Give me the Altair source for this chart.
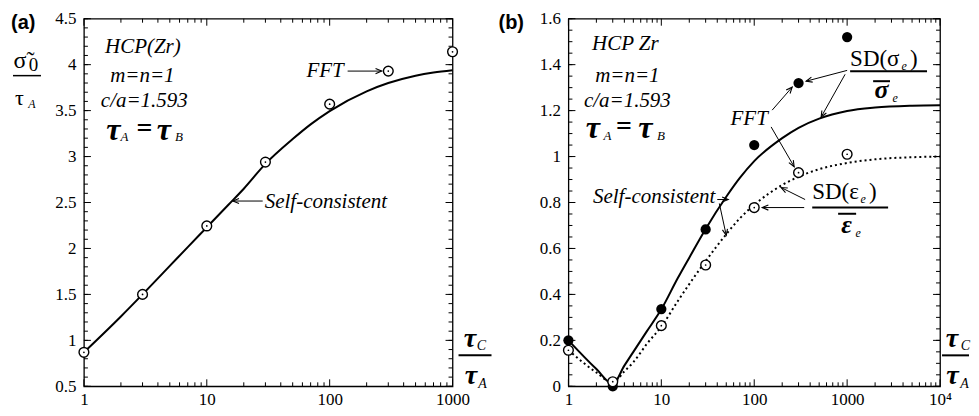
import math
import altair as alt
import pandas as pd

SERIF = "Liberation Serif"
SANS = "Liberation Sans"

# ---------------- data ----------------
# panel (a)
a_fft_x = [1, 3, 10, 30, 100, 300, 1000]
a_fft_y = [0.87, 1.50, 2.245, 2.94, 3.57, 3.93, 4.14]
a_sc_x = [1, 2, 3, 5, 7, 10, 15, 20, 30, 50, 70, 100, 200, 300, 500, 700, 1000]
a_sc_y = [0.87, 1.26, 1.50, 1.81, 2.015, 2.23, 2.475, 2.65, 2.92, 3.19, 3.35,
          3.495, 3.71, 3.80, 3.88, 3.915, 3.94]

# panel (b)
b_fft_x = [1, 3, 10, 30, 100, 300, 1000]
b_sig_fft = [0.20, 0.0, 0.336, 0.683, 1.05, 1.32, 1.52]
b_eps_fft = [0.157, 0.02, 0.264, 0.528, 0.778, 0.93, 1.01]
b_sc_x = [1, 2, 3, 4, 5, 7, 10, 15, 20, 30, 50, 70, 100, 200, 300, 500, 1000,
          2000, 5000, 10000]
b_sig_sc = [0.20, 0.075, 0.01, 0.09, 0.15, 0.24, 0.335, 0.47, 0.56, 0.685, 0.825,
            0.907, 0.98, 1.08, 1.125, 1.165, 1.198, 1.213, 1.221, 1.223]
b_eps_sc = [0.157, 0.06, 0.015, 0.065, 0.105, 0.185, 0.26, 0.37, 0.445, 0.545,
            0.662, 0.731, 0.79, 0.876, 0.912, 0.945, 0.972, 0.988, 0.997, 1.0]

# ticks
a_xticks = [1, 10, 100, 1000]
b_xticks = [1, 10, 100, 1000, 10000]
a_yticks = [0.5, 1, 1.5, 2, 2.5, 3, 3.5, 4, 4.5]
b_yticks = [0, 0.2, 0.4, 0.6, 0.8, 1, 1.2, 1.4, 1.6]
a_yminor = [round(0.5 + 0.1 * i, 2) for i in range(41)]
b_yminor = [round(0.05 * i, 2) for i in range(33)]


def log_minor(decades):
    out = []
    for d in range(decades):
        for m in range(2, 10):
            out.append(m * 10 ** d)
    return out


a_xminor = log_minor(3)
b_xminor = log_minor(4)

WA, HA = 369, 368
WB, HB = 372, 368
MAJ, MIN = 7, 4
LBL = "'' + datum.value"
TICKFS = 17


class Panel:
    def __init__(self, xdom, ydom, W, H, xvals, yvals, xexpr, yexpr):
        self.xdom, self.ydom, self.W, self.H = xdom, ydom, W, H
        self.xs = alt.Scale(type="log", domain=xdom, nice=False)
        self.ys = alt.Scale(domain=ydom, nice=False, zero=False)
        ax = dict(ticks=False, domain=False, grid=False, labelFont=SERIF,
                  labelFontSize=TICKFS, labelColor="black", labelFlush=False,
                  labelOverlap=False, labelBound=False, title=None)
        self.xaxis = alt.Axis(values=xvals, labelExpr=xexpr, labelPadding=5, **ax)
        self.yaxis = alt.Axis(values=yvals, labelExpr=yexpr, labelPadding=8, **ax)
        self.layers = []

    def px(self, x, y):
        lx0, lx1 = math.log10(self.xdom[0]), math.log10(self.xdom[1])
        X = (math.log10(x) - lx0) / (lx1 - lx0) * self.W
        Y = self.H - (y - self.ydom[0]) / (self.ydom[1] - self.ydom[0]) * self.H
        return X, Y

    def X(self, f="x"):
        return alt.X(f + ":Q", scale=self.xs, axis=self.xaxis, title=None)

    def Y(self, f="y"):
        return alt.Y(f + ":Q", scale=self.ys, axis=self.yaxis, title=None)

    def text(self, x, y, s, size, style="normal", weight="normal", dx=0, dy=0,
             align="center", font=SERIF):
        df = pd.DataFrame({"x": [x], "y": [y], "t": [s]})
        self.layers.append(
            alt.Chart(df).mark_text(font=font, fontSize=size, fontStyle=style,
                                    fontWeight=weight, dx=dx, dy=dy, align=align,
                                    baseline="middle", color="black")
            .encode(x=self.X(), y=self.Y(), text="t:N"))

    def ptext(self, px, py, s, size, style="normal", weight="normal",
              align="center", font=SERIF):
        df = pd.DataFrame({"t": [s]})
        self.layers.append(
            alt.Chart(df).mark_text(font=font, fontSize=size, fontStyle=style,
                                    fontWeight=weight, align=align,
                                    baseline="middle", color="black")
            .encode(x=alt.value(px), y=alt.value(py), text="t:N"))

    def prule(self, x1, x2, y, w=2):
        df = pd.DataFrame({"t": [0]})
        self.layers.append(
            alt.Chart(df).mark_rule(color="black", strokeWidth=w)
            .encode(x=alt.value(x1), x2=alt.value(x2), y=alt.value(y)))

    def seg(self, x1, y1, x2, y2, w=1.0):
        df = pd.DataFrame({"x": [x1], "y": [y1], "x2": [x2], "y2": [y2]})
        self.layers.append(
            alt.Chart(df).mark_rule(color="black", strokeWidth=w)
            .encode(x=self.X(), y=self.Y(), x2="x2:Q", y2="y2:Q"))

    def arrow(self, x1, y1, x2, y2):
        self.seg(x1, y1, x2, y2, 1.0)
        p1, p2 = self.px(x1, y1), self.px(x2, y2)
        ang = math.degrees(math.atan2(p2[1] - p1[1], p2[0] - p1[0])) % 360
        df = pd.DataFrame({"x": [x2], "y": [y2]})
        self.layers.append(
            alt.Chart(df).mark_point(shape="M -1 -0.42 L 0 0 L -1 0.42",
                                     filled=False, stroke="black", strokeWidth=1.1,
                                     size=150, angle=round(ang, 2), opacity=1)
            .encode(x=self.X(), y=self.Y()))

    def ticks(self, xmaj, xmin, ymaj, ymin):
        W, H = self.W, self.H
        for vals, ln in ((xmaj, MAJ), (xmin, MIN)):
            df = pd.DataFrame({"x": vals})
            self.layers.append(alt.Chart(df).mark_rule(color="black", strokeWidth=1)
                               .encode(x=self.X(), y=alt.value(H), y2=alt.value(H - ln)))
            self.layers.append(alt.Chart(df).mark_rule(color="black", strokeWidth=1)
                               .encode(x=self.X(), y=alt.value(0), y2=alt.value(ln)))
        for vals, ln in ((ymaj, MAJ), (ymin, MIN)):
            df = pd.DataFrame({"y": vals})
            self.layers.append(alt.Chart(df).mark_rule(color="black", strokeWidth=1)
                               .encode(y=self.Y(), x=alt.value(0), x2=alt.value(ln)))
            self.layers.append(alt.Chart(df).mark_rule(color="black", strokeWidth=1)
                               .encode(y=self.Y(), x=alt.value(W), x2=alt.value(W - ln)))

    def chart(self):
        return alt.layer(*self.layers).properties(width=self.W, height=self.H)


def circles(p, xs_, ys_, filled):
    df = pd.DataFrame({"x": xs_, "y": ys_})
    if filled:
        p.layers.append(alt.Chart(df).mark_point(shape="circle", filled=True,
                                                 color="black", size=105, opacity=1)
                        .encode(x=p.X(), y=p.Y()))
    else:
        p.layers.append(alt.Chart(df).mark_point(shape="circle", filled=True,
                                                 fill="white", stroke="black",
                                                 strokeWidth=1.4, size=95, opacity=1)
                        .encode(x=p.X(), y=p.Y()))
        p.layers.append(alt.Chart(df).mark_point(shape="circle", filled=True,
                                                 color="black", size=3, opacity=1)
                        .encode(x=p.X(), y=p.Y()))


def curve(p, xs_, ys_, dash=None):
    df = pd.DataFrame({"x": xs_, "y": ys_})
    kw = dict(color="black", strokeWidth=2, interpolate="monotone")
    if dash:
        kw["strokeDash"] = dash
    p.layers.append(alt.Chart(df).mark_line(**kw).encode(x=p.X(), y=p.Y()))


def tau_eq(p, x, y, offs):
    t1, a, eq, t2, b, dys = offs
    p.text(x, y, "τ", 32, style="italic", weight="bold", dx=t1)
    p.text(x, y, "A", 13, style="italic", dx=a, dy=dys)
    p.text(x, y, "=", 28, weight="bold", dx=eq, dy=-1)
    p.text(x, y, "τ", 32, style="italic", weight="bold", dx=t2)
    p.text(x, y, "B", 13, style="italic", dx=b, dy=dys)


# ---------------- panel (a) ----------------
A = Panel([1, 1000], [0.5, 4.5], WA, HA, a_xticks, a_yticks, LBL, LBL)
A.ticks(a_xticks, a_xminor, a_yticks, a_yminor)
curve(A, a_sc_x, a_sc_y)
circles(A, a_fft_x, a_fft_y, False)
A.text(3.02, 4.196, "HCP(Zr)", 21, style="italic")
A.text(2.99, 3.871, "m=n=1", 21, style="italic")
A.text(3.10, 3.600, "c/a=1.593", 21, style="italic")
tau_eq(A, 3.02, 3.286, (-29.5, -18.5, 1.5, 21, 36, 7))
A.text(130, 3.93, "FFT", 21, style="italic", align="right")
A.arrow(140, 3.93, 265, 3.93)
A.text(29.6, 2.505, "Self-consistent", 21, style="italic", align="left")
A.arrow(28.5, 2.516, 16.3, 2.516)
# outside labels
A.ptext(-73, 4, "(a)", 20, weight="bold", align="left", font=SANS)
A.ptext(-64, 42, "σ\u0303", 24)
A.ptext(-50.5, 46, "0", 19)
A.prule(-71, -43, 57, 1.5)
A.ptext(-64.5, 79, "τ", 22)
A.ptext(-52, 85, "A", 12, style="italic")
A.ptext(386.5, 321, "τ", 28, style="italic", weight="bold")
A.ptext(398, 328, "C", 14, style="italic")
A.prule(375, 408, 337, 2)
A.ptext(387.5, 358, "τ", 28, style="italic", weight="bold")
A.ptext(399, 366, "A", 14, style="italic")

# ---------------- panel (b) ----------------
B = Panel([1, 10000], [0, 1.6], WB, HB, b_xticks, b_yticks,
          "datum.value == 10000 ? '10⁴' : '' + datum.value", LBL)
B.ticks(b_xticks, b_xminor, b_yticks, b_yminor)
curve(B, b_sc_x, b_sig_sc)
curve(B, b_sc_x, b_eps_sc, dash=[2, 3])
circles(B, b_fft_x, b_sig_fft, True)
circles(B, b_fft_x, b_eps_fft, False)
B.text(4.10, 1.488, "HCP Zr", 21, style="italic")
B.text(4.31, 1.349, "m=n=1", 21, style="italic")
B.text(4.31, 1.241, "c/a=1.593", 21, style="italic")
tau_eq(B, 3.81, 1.126, (-29.5, -15, 1.5, 23, 38.5, 8))
B.text(38.1, 0.826, "Self-consistent", 21, style="italic", align="right")
B.arrow(40, 0.813, 52.5, 0.813)
B.arrow(42.1, 0.796, 50, 0.657)
B.text(88.3, 1.163, "FFT", 21, style="italic")
B.arrow(156, 1.202, 256, 1.302)
B.arrow(152, 1.129, 269, 0.956)
# SD(sigma_e)/sigma_bar_e
B.text(2793, 1.371, "SD(σ", 23, align="left", dx=-38.5, dy=-12)
B.text(2793, 1.371, "e", 12, style="italic", align="left", dx=13, dy=-5)
B.text(2793, 1.371, ")", 23, align="left", dx=21.5, dy=-12)
B.seg(1077, 1.371, 7244, 1.371, 2)
B.text(2793, 1.371, "σ", 26, style="italic", weight="bold", dx=-7, dy=19)
B.seg(1905, 1.328, 2896, 1.328, 2)
B.text(2793, 1.371, "e", 12, style="italic", dx=6.5, dy=27)
B.arrow(1000, 1.375, 362, 1.328)
B.arrow(951, 1.358, 525, 1.172)
# SD(eps_e)/eps_bar_e
B.text(1077, 0.778, "SD(ε", 23, align="left", dx=-38, dy=-16)
B.text(1077, 0.778, "e", 12, style="italic", align="left", dx=10.5, dy=-9)
B.text(1077, 0.778, ")", 23, align="left", dx=19, dy=-16)
B.seg(421, 0.778, 2761, 0.778, 2)
B.text(1077, 0.778, "ε", 26, style="italic", weight="bold", dx=-3.5, dy=17)
B.seg(800, 0.751, 1250, 0.751, 2)
B.text(1077, 0.778, "e", 12, style="italic", dx=8, dy=25)
B.arrow(345, 0.778, 122, 0.778)
B.arrow(353, 0.813, 195, 0.865)
# outside labels
B.ptext(-70, 4, "(b)", 20, weight="bold", align="left", font=SANS)
B.ptext(384, 321, "τ", 28, style="italic", weight="bold")
B.ptext(397.5, 328, "C", 14, style="italic")
B.prule(374, 401, 337, 2)
B.ptext(384.5, 358, "τ", 28, style="italic", weight="bold")
B.ptext(396.5, 366, "A", 14, style="italic")

chart = alt.hconcat(A.chart(), B.chart(), spacing=116, bounds="flush").properties(
    padding={"left": 2, "top": 0.5, "right": 0, "bottom": 0}
).configure_view(stroke="black", strokeWidth=1.3)

chart.save("out.html", embed_options={"renderer": "svg", "actions": False})
